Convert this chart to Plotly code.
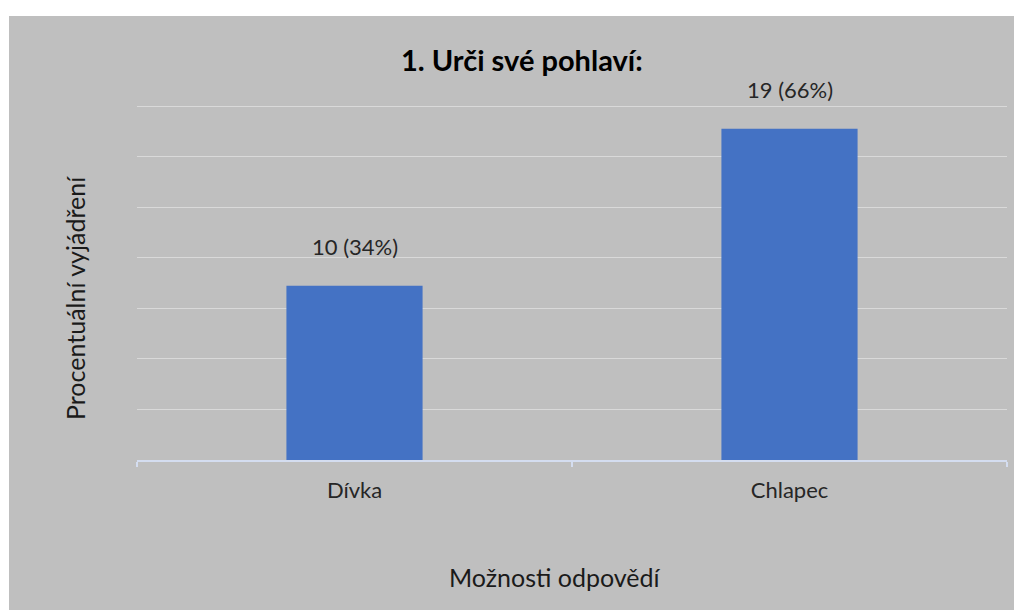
import plotly.graph_objects as go

categories = ["Dívka", "Chlapec"]
counts = [10, 19]
percents = [34.48, 65.52]
labels = ["10 (34%)", "19 (66%)"]
title_text = "1. Urči své pohlaví:"
x_title = "Možnosti odpovědí"
y_title = "Procentuální vyjádření"

OFF = 8  # page body margin
W, H = 1022 - OFF, 610 - OFF
YMAX = 72
unit = 354 / 70.0  # px per percent
L, R, B = 137 - OFF, 15, 150
T = int(round(460 - YMAX * unit)) - OFF
pw, ph = W - L - R, H - T - B

font = "Lato, 'Open Sans', sans-serif"
grey = "#bfbfbf"

fig = go.Figure()
fig.add_trace(go.Bar(x=categories, y=percents, marker=dict(color="#4472c4", line=dict(width=0)),
                     hoverinfo="skip"))

for c, p, t in zip(categories, percents, labels):
    fig.add_annotation(x=c, y=p, text=t, showarrow=False, yanchor="bottom", yshift=24,
                       font=dict(family=font, size=22, color="#262626"))

def px_x(x):
    return (x - OFF - L) / pw

def px_y(y):
    return 1 - (y - OFF - T) / ph

fig.add_annotation(xref="paper", yref="paper", x=px_x(555), y=px_y(577),
                   text=x_title, showarrow=False, xanchor="center", yanchor="middle",
                   font=dict(family=font, size=25, color="#1a1a1a"))
fig.add_annotation(xref="paper", yref="paper", x=px_x(75), y=px_y(298),
                   text=y_title, showarrow=False, textangle=-90, xanchor="center", yanchor="middle",
                   font=dict(family=font, size=25, color="#1a1a1a"))
fig.add_annotation(xref="paper", yref="paper", x=px_x(522), y=px_y(60),
                   text="<b>" + title_text + "</b>", showarrow=False, xanchor="center", yanchor="middle",
                   font=dict(family=font, size=29, color="#000000"))

# white strips outside the grey chart area (beyond the page margin)
fig.add_shape(type="rect", xref="paper", yref="paper", x0=px_x(0), x1=px_x(9),
              y0=px_y(700), y1=px_y(0), fillcolor="white", line=dict(width=0), layer="below")
fig.add_shape(type="rect", xref="paper", yref="paper", x0=px_x(0), x1=px_x(1100),
              y0=px_y(16), y1=px_y(0), fillcolor="white", line=dict(width=0), layer="below")

fig.update_layout(
    width=W, height=H,
    margin=dict(l=L, r=R, t=T, b=B),
    paper_bgcolor=grey, plot_bgcolor=grey,
    showlegend=False, bargap=0.687,
    xaxis=dict(showline=True, linecolor="#d4ddf0", linewidth=2, ticks="outside", tickson="boundaries",
               ticklen=5, tickcolor="#d4ddf0", tickwidth=2, showgrid=False,
               tickfont=dict(family=font, size=22, color="#262626"), ticklabelstandoff=10),
    yaxis=dict(range=[0, YMAX], tickvals=[0, 10, 20, 30, 40, 50, 60, 70], showticklabels=False,
               showgrid=True, gridcolor="#d9d9d9", gridwidth=1, zeroline=False, showline=False),
)

fig.write_html("out.html")
